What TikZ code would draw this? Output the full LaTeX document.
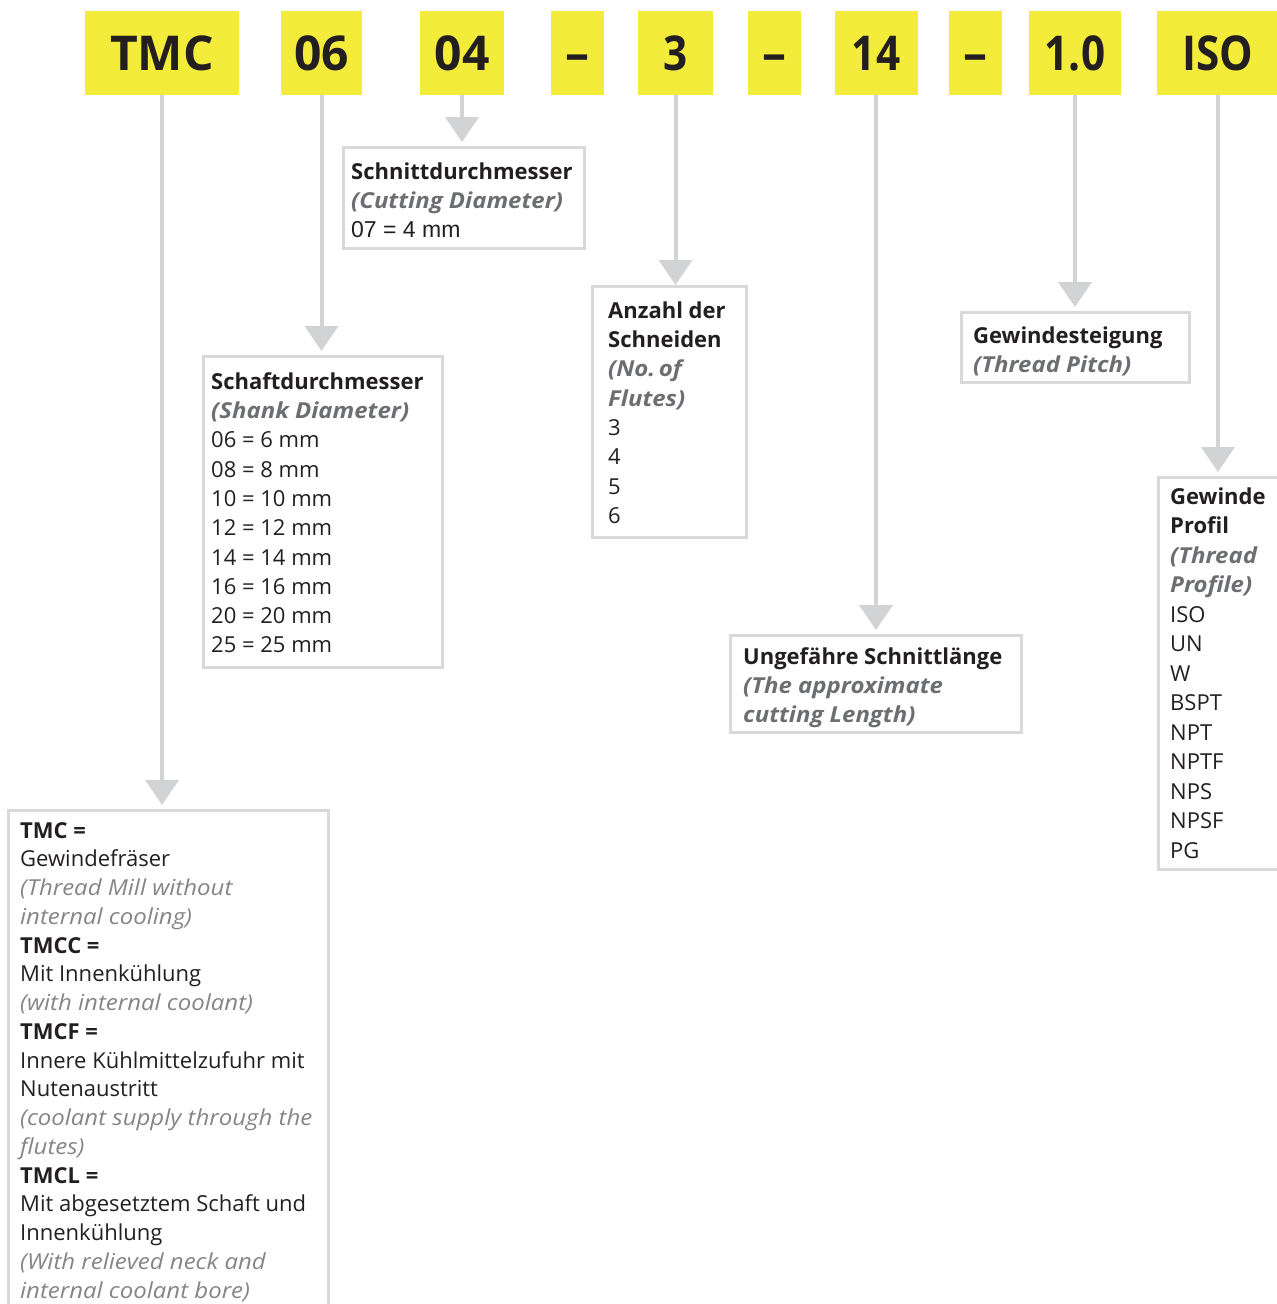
\documentclass[tikz,border=0pt]{standalone}
\usepackage{fontspec}
\setmainfont{Open Sans}[ItalicFeatures={FakeStretch=1.09},BoldItalicFeatures={FakeStretch=1.09}]
\newfontfamily\hdrcond{Open Sans}[FakeStretch=0.88]
\newfontfamily\libsans{Liberation Sans}
\usetikzlibrary{arrows.meta}
\definecolor{hdryellow}{HTML}{F3EC3A}
\definecolor{txtdark}{HTML}{231F20}
\definecolor{conngray}{HTML}{D1D3D4}
\definecolor{boxgray}{HTML}{D9D9D9}
\definecolor{bigray}{HTML}{6D6E71}
\definecolor{itgray}{HTML}{858585}
\newcommand\bi[1]{{\bfseries\itshape\color{bigray}#1}}
\newcommand\ig[1]{{\itshape\color{itgray}#1}}
\newcommand\fs{\rule{0pt}{21pt}}
\tikzset{
  hdr/.style={fill=hdryellow, inner sep=0pt, text=txtdark, text height=35pt, text depth=0pt, font={\fontsize{48}{50}\selectfont\bfseries}},
  hdrc/.style={hdr, font={\fontsize{48}{50}\selectfont\hdrcond\bfseries}},
  dbox/.style={draw=boxgray, line width=3pt, inner sep=0pt, anchor=north west},
  txt/.style={anchor=north west, inner sep=0pt, align=left, text=txtdark, font={\fontsize{22}{29.3}\selectfont}},
  conn/.style={draw=conngray, line width=4pt, -{Triangle[width=33pt,length=25pt]}, shorten >=4pt}
}
\begin{document}
\begin{tikzpicture}[x=1pt,y=-1pt]
\useasboundingbox (0,0) rectangle (1277,1304);
\clip (0,0) rectangle (1277,1304);
% header boxes
\node[hdr, minimum width=154pt, minimum height=84pt] (hTMC) at (162,53) {TMC};
\node[hdr, minimum width=81pt, minimum height=84pt] (hSchaft) at (321.5,53) {06};
\node[hdr, minimum width=84pt, minimum height=84pt] (hSchnitt) at (462,53) {04};
\node[hdr, minimum width=53pt, minimum height=84pt] (hD1) at (577.5,53) {–};
\node[hdrc, minimum width=75pt, minimum height=84pt] (hAnz) at (675.5,53) {3};
\node[hdr, minimum width=53pt, minimum height=84pt] (hD2) at (774.5,53) {–};
\node[hdrc, minimum width=83pt, minimum height=84pt] (hLen) at (876,53) {14};
\node[hdr, minimum width=53pt, minimum height=84pt] (hD3) at (975.5,53) {–};
\node[hdrc, minimum width=92pt, minimum height=84pt] (hPitch) at (1075,53) {1.0};
\node[hdrc, minimum width=122pt, minimum height=84pt] (hProf) at (1218,53) {ISO};
% description boxes
\node[dbox, minimum width=241pt, minimum height=101pt] (bSchnitt) at (342,146) {};
\node[dbox, minimum width=239pt, minimum height=311pt] (bSchaft) at (202,355) {};
\node[dbox, minimum width=154pt, minimum height=251pt] (bAnz) at (591,285) {};
\node[dbox, minimum width=291pt, minimum height=97pt] (bLen) at (729,634) {};
\node[dbox, minimum width=228pt, minimum height=70pt] (bPitch) at (960,311) {};
\node[dbox, minimum width=160pt, minimum height=392pt] (bProf) at (1157,476) {};
\node[dbox, minimum width=320pt, minimum height=520pt] (bTMC) at (7,809) {};
% connectors
\draw[conn] (hTMC.south) -- (hTMC.south |- bTMC.north);
\draw[conn] (hSchaft.south) -- (hSchaft.south |- bSchaft.north);
\draw[conn] (hSchnitt.south) -- (hSchnitt.south |- bSchnitt.north);
\draw[conn, shorten >=0pt] (hAnz.south) -- (hAnz.south |- bAnz.north);
\draw[conn] (hLen.south) -- (hLen.south |- bLen.north);
\draw[conn] (hPitch.south) -- (hPitch.south |- bPitch.north);
\draw[conn] (hProf.south) -- (hProf.south |- bProf.north);
% texts
\node[txt] (tSchnitt) at (351,158) {\fs\textbf{Schnittdurchmesser}\\\bi{(Cutting Diameter)}\\{\libsans\fontsize{23}{29.3}\selectfont 07 = 4 mm}};
\node[txt] (tSchaft) at (211,368) {\fs\textbf{Schaftdurchmesser}\\\bi{(Shank Diameter)}\\06 = 6 mm\\08 = 8 mm\\10 = 10 mm\\12 = 12 mm\\14 = 14 mm\\16 = 16 mm\\20 = 20 mm\\25 = 25 mm};
\node[txt] (tAnz) at (608,297) {\fs\textbf{Anzahl der}\\\textbf{Schneiden}\\\bi{(No.\,of}\\\bi{Flutes)}\\3\\4\\5\\6};
\node[txt] (tLen) at (743,643) {\fs\textbf{Ungefähre Schnittlänge}\\\bi{(The approximate}\\\bi{cutting Length)}};
\node[txt] (tPitch) at (973,322) {\fs\textbf{Gewindesteigung}\\\bi{(Thread Pitch)}};
\node[txt, font={\fontsize{22}{29.5}\selectfont}] (tProf) at (1170,483) {\fs\textbf{Gewinde}\\\textbf{Profil}\\\bi{(Thread}\\\bi{Profile)}\\ISO\\UN\\W\\BSPT\\NPT\\NPTF\\NPS\\NPSF\\PG};
\node[txt, font={\fontsize{22}{28.75}\selectfont}] (tTMC) at (20,817) {\fs\textbf{TMC =}\\Gewindefräser\\\ig{(Thread Mill without}\\\ig{internal cooling)}\\\textbf{TMCC =}\\Mit Innenkühlung\\\ig{(with internal coolant)}\\\textbf{TMCF =}\\Innere Kühlmittelzufuhr mit\\Nutenaustritt\\\ig{(coolant supply through the}\\\ig{flutes)}\\\textbf{TMCL =}\\Mit abgesetztem Schaft und\\Innenkühlung\\\ig{(With relieved neck and}\\\ig{internal coolant bore)}};
\end{tikzpicture}
\end{document}
